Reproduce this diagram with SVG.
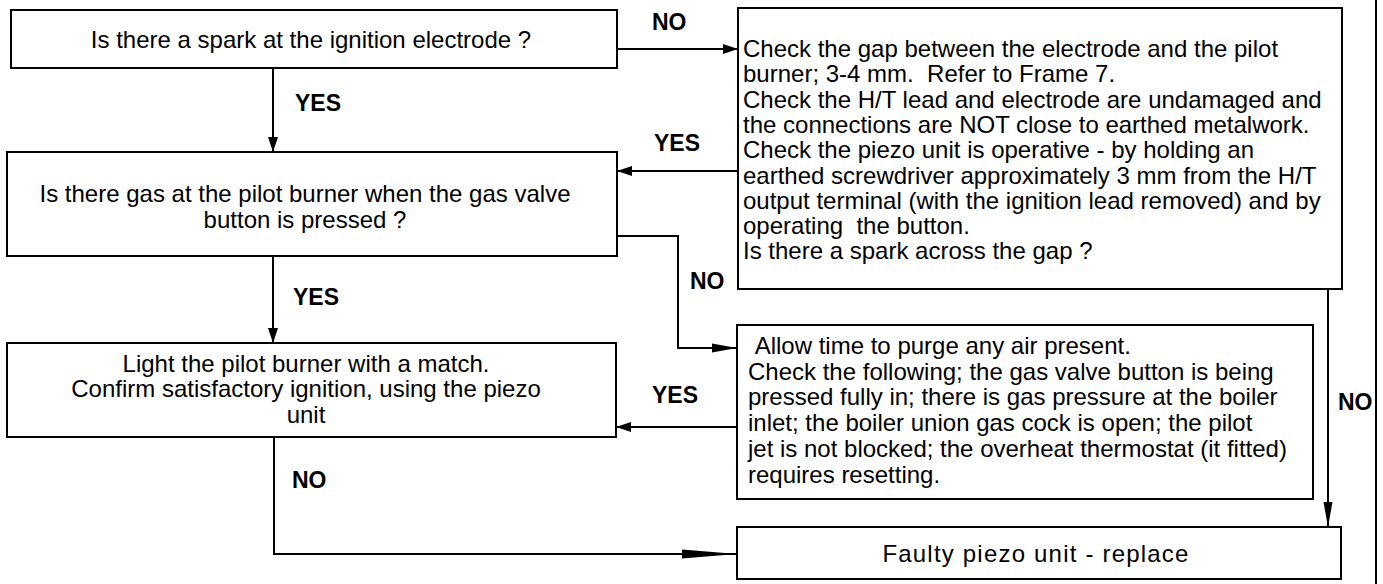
<svg xmlns="http://www.w3.org/2000/svg" width="1383" height="584" viewBox="0 0 1383 584">
<style>
.box{fill:#fff;stroke:#000;stroke-width:2}
.t{font-family:"Liberation Sans",Arial,sans-serif;font-size:24px;fill:#000}
.c{text-anchor:middle}
.lbl{font-family:"Liberation Sans",Arial,sans-serif;font-size:23px;font-weight:bold;fill:#000}
.ln{fill:none;stroke:#000;stroke-width:2}
</style>
<defs>
<marker id="sm" markerUnits="userSpaceOnUse" markerWidth="16" markerHeight="10" refX="15" refY="5" orient="auto"><path d="M0,0 L15,5 L0,10 Z" fill="#000"/></marker>
<marker id="lg" markerUnits="userSpaceOnUse" markerWidth="26" markerHeight="10" refX="25" refY="5" orient="auto"><path d="M0,0.5 L25,5 L0,9.5 Z" fill="#000"/></marker>
<marker id="xl" markerUnits="userSpaceOnUse" markerWidth="56" markerHeight="10" refX="55" refY="5" orient="auto"><path d="M0,0.5 L55,5 L0,9.5 Z" fill="#000"/></marker>
</defs>
<rect width="1383" height="584" fill="#fff"/>
<line x1="1376" y1="0" x2="1376" y2="584" class="ln"/>
<g id="connectors">
<line class="ln" x1="273" y1="68" x2="273" y2="152" marker-end="url(#sm)"/>
<line class="ln" x1="617" y1="49" x2="738" y2="49" marker-end="url(#sm)"/>
<line class="ln" x1="738" y1="171" x2="617" y2="171" marker-end="url(#sm)"/>
<line class="ln" x1="273" y1="256" x2="273" y2="343" marker-end="url(#sm)"/>
<path class="ln" d="M617,236 H678 V348 H737" marker-end="url(#lg)"/>
<line class="ln" x1="737" y1="427" x2="616" y2="427" marker-end="url(#sm)"/>
<path class="ln" d="M274,437 V554 H737" marker-end="url(#xl)"/>
<line class="ln" x1="1328" y1="289" x2="1328" y2="527" marker-end="url(#lg)"/>
<text class="lbl" x="652" y="30">NO</text>
<text class="lbl" x="295" y="111">YES</text>
<text class="lbl" x="654" y="151">YES</text>
<text class="lbl" x="690" y="289">NO</text>
<text class="lbl" x="293" y="305">YES</text>
<text class="lbl" x="652" y="403">YES</text>
<text class="lbl" x="292" y="488">NO</text>
<text class="lbl" x="1338" y="410">NO</text>
</g>
<g id="n1">
<rect class="box" x="11" y="10" width="606" height="58"/>
<text class="t c" x="311" y="48">Is there a spark at the ignition electrode ?</text>
</g>
<g id="n2">
<rect class="box" x="7" y="152" width="610" height="104"/>
<text class="t c" x="305" y="202">Is there gas at the pilot burner when the gas valve</text>
<text class="t c" x="305" y="228">button is pressed ?</text>
</g>
<g id="n3">
<rect class="box" x="7" y="343" width="609" height="94"/>
<text class="t c" x="306" y="372">Light the pilot burner with a match.</text>
<text class="t c" x="306" y="397">Confirm satisfactory ignition, using the piezo</text>
<text class="t c" x="306" y="423">unit</text>
</g>
<g id="n4">
<rect class="box" x="738" y="8" width="604" height="281"/>
<text class="t" x="743" y="57">Check the gap between the electrode and the pilot</text>
<text class="t" x="743" y="82">burner; 3-4 mm.&#160; Refer to Frame 7.</text>
<text class="t" x="743" y="108">Check the H/T lead and electrode are undamaged and</text>
<text class="t" x="743" y="133">the connections are NOT close to earthed metalwork.</text>
<text class="t" x="743" y="158">Check the piezo unit is operative - by holding an</text>
<text class="t" x="743" y="184">earthed screwdriver approximately 3 mm from the H/T</text>
<text class="t" x="743" y="209">output terminal (with the ignition lead removed) and by</text>
<text class="t" x="743" y="234">operating&#160; the button.</text>
<text class="t" x="743" y="259">Is there a spark across the gap ?</text>
</g>
<g id="n5">
<rect class="box" x="737" y="325" width="576" height="174"/>
<text class="t" x="748" y="354">&#160;Allow time to purge any air present.</text>
<text class="t" x="748" y="380">Check the following; the gas valve button is being</text>
<text class="t" x="748" y="405">pressed fully in; there is gas pressure at the boiler</text>
<text class="t" x="748" y="431">inlet; the boiler union gas cock is open; the pilot</text>
<text class="t" x="748" y="457">jet is not blocked; the overheat thermostat (it fitted)</text>
<text class="t" x="748" y="483">requires resetting.</text>
</g>
<g id="n6">
<rect class="box" x="737" y="527" width="604" height="52"/>
<text class="t c" x="1036" y="562" style="letter-spacing:1.2px">Faulty piezo unit - replace</text>
</g>
</svg>
